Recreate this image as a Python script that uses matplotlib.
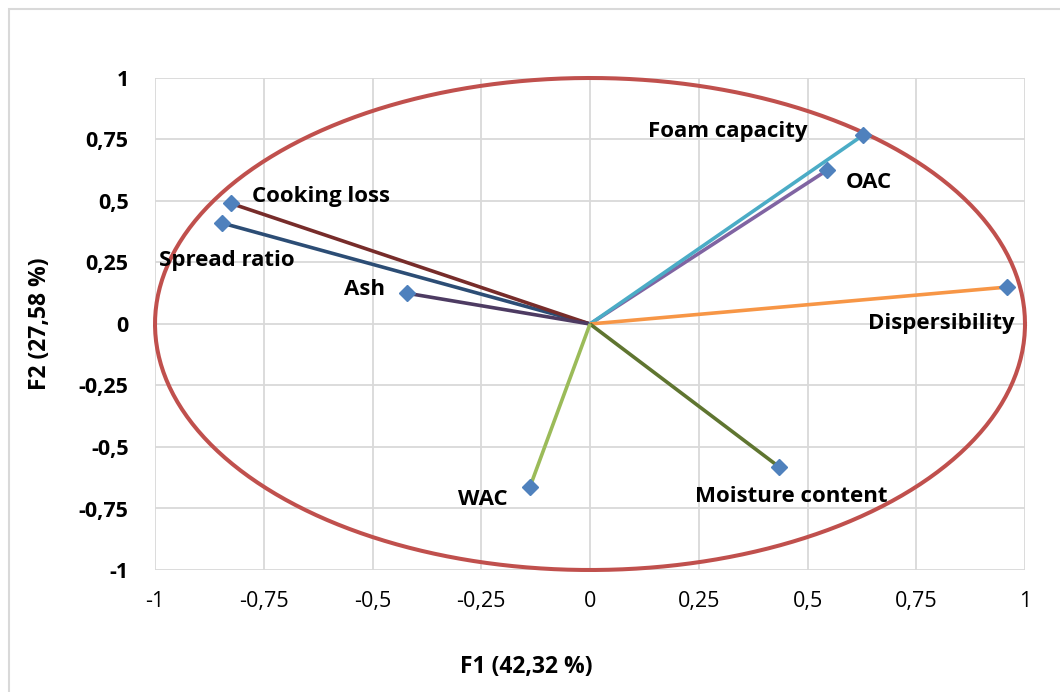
import numpy as np
import matplotlib
matplotlib.use("Agg")
import matplotlib.pyplot as plt
from matplotlib.patches import Rectangle

# variable loadings on F1 / F2
names = ["Spread ratio", "Cooking loss", "Ash", "OAC", "Foam capacity",
         "Dispersibility", "Moisture content", "WAC"]
f1 = [-0.845, -0.825, -0.42, 0.545, 0.628, 0.958, 0.434, -0.138]
f2 = [0.41, 0.49, 0.125, 0.625, 0.768, 0.15, -0.58, -0.662]
line_colors = ["#2C4D75", "#772C2A", "#4D3B62", "#8064A2", "#4BACC6",
               "#F79646", "#5F7530", "#9BBB59"]
ticks = [-1, -0.75, -0.5, -0.25, 0, 0.25, 0.5, 0.75, 1]
tick_labels = ["-1", "-0,75", "-0,5", "-0,25", "0", "0,25", "0,5", "0,75", "1"]

# label offsets in pixels (dx, dy, ha)
label_pos = {
    "Spread ratio": (-63, -37, "left"),
    "Cooking loss": (21, 7, "left"),
    "Ash": (-22, 4, "right"),
    "OAC": (19, -12, "left"),
    "Foam capacity": (-56, 4, "right"),
    "Dispersibility": (8, -36, "right"),
    "Moisture content": (-84, -30, "left"),
    "WAC": (-22, -13, "right"),
}

plt.rcParams['font.family'] = ['Open Sans', 'DejaVu Sans']

fig = plt.figure(figsize=(10.6, 6.92), dpi=100)
fig.patches.append(Rectangle((9 / 1060, -0.1), 1.2, 1 - 9 / 692 + 0.1,
                             transform=fig.transFigure, fill=False,
                             edgecolor="#D9D9D9", linewidth=1.5))
ax = fig.add_axes([155 / 1060, 1 - 570 / 692, 870 / 1060, 492 / 692])
ax.set_xlim(-1, 1)
ax.set_ylim(-1, 1)
ax.set_xticks(ticks)
ax.set_yticks(ticks)
ax.set_xticklabels(tick_labels, fontsize=15.5)
ax.set_yticklabels(tick_labels, fontsize=15.5, fontweight="bold")
ax.tick_params(axis="x", length=0, pad=15)
ax.tick_params(axis="y", length=0, pad=19)
ax.grid(True, color="#D9D9D9", linewidth=1.3)
ax.set_axisbelow(True)
for s in ax.spines.values():
    s.set_visible(False)

for i in range(len(names)):
    ax.plot([0, f1[i]], [0, f2[i]], color=line_colors[i], linewidth=2.6,
            solid_capstyle="butt", zorder=3)
for i in range(len(names)):
    ax.plot(f1[i], f2[i], marker="D", markersize=8.5, color="#4F81BD",
            linestyle="none", zorder=4)
    dx, dy, ha = label_pos[names[i]]
    ax.annotate(names[i], (f1[i], f2[i]), xytext=(dx, dy),
                textcoords="offset pixels", ha=ha, va="center",
                fontsize=16, fontweight="bold", zorder=5)

t = np.linspace(0, 2 * np.pi, 400)
ax.plot(np.cos(t), np.sin(t), color="#C0504D", linewidth=2.9, clip_on=False,
        zorder=2)

ax.set_xlabel("F1 (42,32 %)", fontsize=16.5, fontweight="bold", va="center")
ax.xaxis.set_label_coords((526 - 155) / 870, -(667 - 570) / 492)
ax.set_ylabel("F2 (27,58 %)", fontsize=16.5, fontweight="bold", va="center")
ax.yaxis.set_label_coords(-(155 - 40) / 870, 0.5)

fig.savefig("out.png", dpi=100)
